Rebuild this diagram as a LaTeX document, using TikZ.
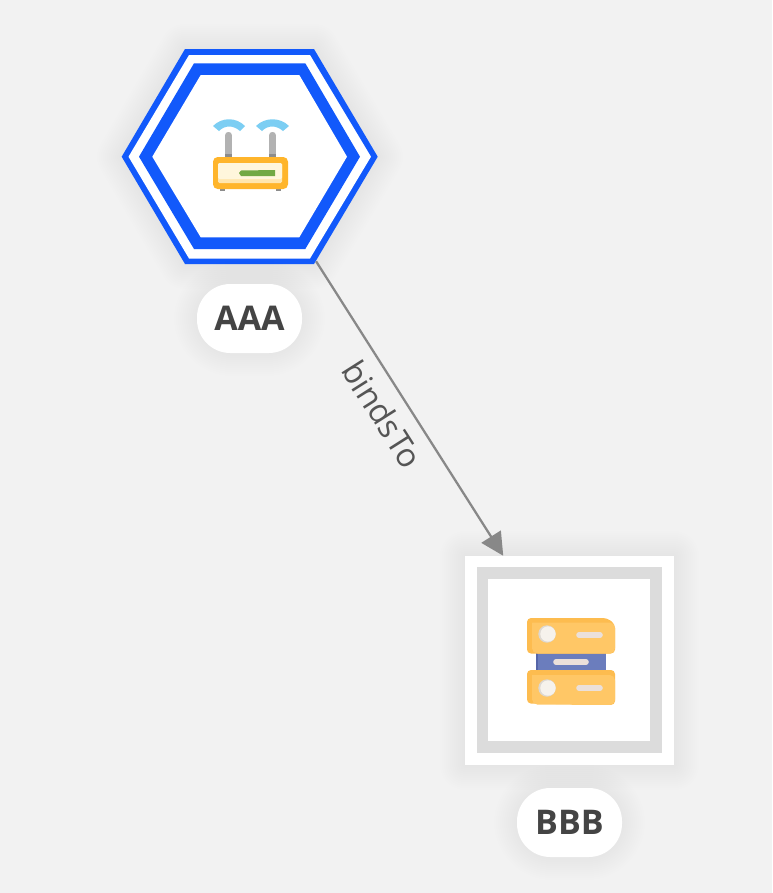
\documentclass[tikz,border=0pt]{standalone}
\usepackage{fontspec}
\usetikzlibrary{arrows.meta}
\setmainfont{Open Sans}
\newfontfamily\edgefont{Open Sans}
\definecolor{pagebg}{HTML}{F2F2F2}
\definecolor{hexblue}{HTML}{1259FB}
\definecolor{ringgrey}{HTML}{DCDCDC}
\definecolor{edgegrey}{HTML}{888888}
\definecolor{labeltext}{HTML}{444444}
\definecolor{edgetext}{HTML}{555555}
\definecolor{amber}{HTML}{FFB52B}
\definecolor{cream}{HTML}{FFF6DC}
\definecolor{creamlow}{HTML}{FFE6AE}
\definecolor{leaf}{HTML}{72A944}
\definecolor{sky}{HTML}{7CCEF3}
\definecolor{antenna}{HTML}{B2B2B2}
\definecolor{antennadark}{HTML}{8C8C8C}
\definecolor{boxback}{HTML}{FDBC4F}
\definecolor{boxfront}{HTML}{FFC766}
\definecolor{slate}{HTML}{6B7DBD}
\definecolor{slatedark}{HTML}{5565A8}
\definecolor{chalk}{HTML}{F6F2EC}
\definecolor{chalkshade}{HTML}{DDD8D2}
\definecolor{dashcol}{HTML}{EBE0DA}
\newcommand{\softshadow}[1]{%
  \foreach \w in {2,6,...,50} {
    \draw[line width=\w*0.75pt, black, opacity=0.005, line join=round] #1;
  }
}
\tikzset{
  pill/.style={fill=white, rounded corners=25pt, minimum width=78.75pt, minimum height=51.75pt,
    inner sep=0pt, text=labeltext, font=\bfseries\fontsize{25.5pt}{28pt}\selectfont},
  anchorbox/.style={inner sep=0pt, minimum width=99pt, minimum height=156.5pt},
  squarebox/.style={inner sep=0pt, minimum size=156.75pt},
  edge/.style={draw=edgegrey, line width=1.7pt, -{Triangle[length=17pt,width=17pt,fill=edgegrey]}},
  edgelabel/.style={text=edgetext, rotate=-57.6, font=\edgefont\fontsize{24.5pt}{28pt}\selectfont},
  dashbar/.style={line width=4.2pt, line cap=round, draw=dashcol},
}
\begin{document}
\begin{tikzpicture}[x=0.75pt,y=-0.75pt]
\useasboundingbox (0,0) rectangle (772,893);
\fill[pagebg] (0,0) rectangle (772,893);

% hexagon
\softshadow{(122,156.7)--(185,49)--(314,49)--(378,156.7)--(314,264)--(185,264)--cycle}
\fill[hexblue] (121.7,156.7)--(185,49)--(314,49)--(377.7,156.7)--(314,264)--(185,264)--cycle;
\fill[white] (128.5,156.7)--(189,55)--(310,55)--(371,156.7)--(310,258.5)--(189,258.5)--cycle;
\fill[hexblue] (139,156.7)--(194,63.3)--(305.3,63.3)--(360,156.7)--(305.3,249)--(194,249)--cycle;
\fill[white] (152.3,156.7)--(200.7,75)--(299.3,75)--(347,156.7)--(299.3,237.3)--(200.7,237.3)--cycle;
\node[anchorbox] (aaa) at (250,156.7) {};

% router icon
\fill[sky] (213,126) .. controls (222,117) and (236,117) .. (245,126) -- (240,131) .. controls (233,125) and (225,125) .. (219,131) -- cycle;
\fill[sky] (256,126) .. controls (265,117) and (280,117) .. (289,126) -- (283,131) .. controls (276,125) and (268,125) .. (262,131) -- cycle;
\fill[antenna, rounded corners=2.2pt] (225,157) -- (225.2,132) -- (231.8,132) -- (232,157) -- cycle;
\fill[antenna, rounded corners=2.2pt] (269,157) -- (269.2,132) -- (275.8,132) -- (276,157) -- cycle;
\fill[antennadark] (225,154) rectangle (232,158);
\fill[antennadark] (269,154) rectangle (276,158);
\fill[antennadark] (219.5,187) rectangle (224.5,190.5);
\fill[antennadark] (275.5,187) rectangle (280.5,190.5);
\fill[amber, rounded corners=3.5pt] (213,157) rectangle (288,189);
\fill[creamlow, rounded corners=1pt] (218,163) rectangle (282,183);
\fill[cream, rounded corners=1pt] (218,163) rectangle (282,179);
\fill[leaf] (241,170.5) -- (275,170) -- (275,176) -- (241,176) -- (239,173) -- cycle;

% square
\softshadow{(465,556) rectangle (674,765)}
\node[squarebox, fill=white] (bbb) at (569.5,660.5) {};
\fill[ringgrey] (476.7,567) rectangle (662,753);
\fill[white] (488,579) rectangle (650,741);

% server icon
\fill[slate] (536,652) rectangle (606,671);
\fill[slatedark] (536,652) rectangle (538,671);
\draw[dashbar] (556,662) -- (586,662);
\fill[boxback, rounded corners=3pt] (527,653.5) -- (527,618) -- (607,618) -- (615,624) -- (615,653.5) -- cycle;
\fill[boxfront, rounded corners=4pt] (532,653.5) -- (532,628) .. controls (532,624) and (534,622.5) .. (538,622.5) -- (615,622.5) -- (615,653.5) -- cycle;
\fill[chalkshade] (547,634) circle[radius=8.7];
\fill[chalk] (548,634) circle[radius=7.7];
\draw[dashbar] (579,635) -- (600,635);
\fill[boxback, rounded corners=3pt] (527,703.5) -- (527,670) -- (615,670) -- (615,705) -- cycle;
\fill[boxfront, rounded corners=4pt] (532,704.5) -- (532,680) .. controls (532,676) and (534,675) .. (538,675) -- (615,675) -- (615,705) -- cycle;
\fill[chalkshade] (547,688) circle[radius=8.7];
\fill[chalk] (548,688) circle[radius=7.7];
\draw[dashbar] (579,688) -- (600,688);

% connector
\draw[edge] (aaa) -- (bbb);
\node[edgelabel] (bindslabel) at (382.5,414) {bindsTo};

% labels
\softshadow{[rounded corners=25pt] (199,286) rectangle (300,351)}
\softshadow{[rounded corners=25pt] (519,790) rectangle (620,855)}
\node[pill] (aaalabel) at (249.5,318.5) {AAA};
\node[pill] (bbblabel) at (569.5,822.5) {BBB};
\end{tikzpicture}
\end{document}
